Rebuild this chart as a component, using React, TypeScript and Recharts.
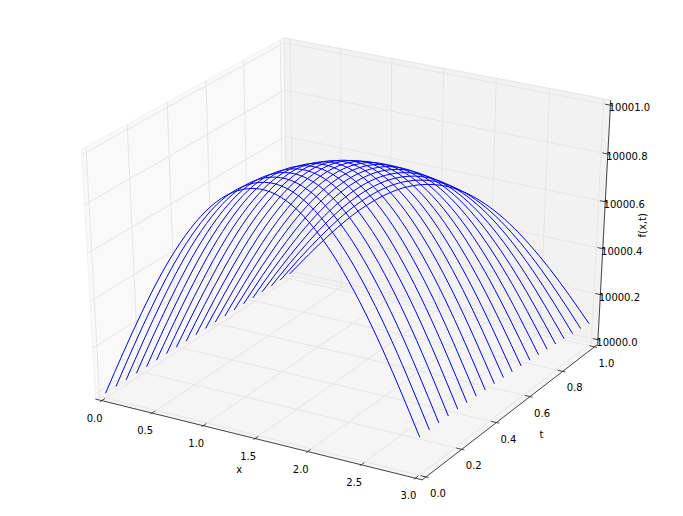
import { ComposedChart, Line, ReferenceArea, XAxis, YAxis } from "recharts";

const xTicks = [0, 0.5, 1, 1.5, 2, 2.5, 3];
const tTicks = [0, 0.2, 0.4, 0.6, 0.8, 1];
const zTicks = [10000, 10000.2, 10000.4, 10000.6, 10000.8, 10001];

// one curve per t: the shared arch profile scaled by that curve's peak height
const tValues = [
  0, 0.053, 0.105, 0.158, 0.211, 0.263, 0.316, 0.368, 0.421, 0.474, 0.526,
  0.579, 0.632, 0.684, 0.737, 0.789, 0.842, 0.895, 0.947, 1,
];
const peakHeights = [
  1, 0.999, 0.995, 0.988, 0.978, 0.966, 0.95, 0.933, 0.913, 0.89, 0.865, 0.837,
  0.807, 0.775, 0.741, 0.705, 0.666, 0.626, 0.584, 0.54,
];
const xSamples = [0, 0.2, 0.4, 0.6, 0.8, 1, 1.2, 1.4, 1.6, 1.8, 2, 2.2, 2.4, 2.6, 2.8, 3];
const archProfile = [
  0, 0.199, 0.389, 0.565, 0.717, 0.841, 0.932, 0.985, 1, 0.974, 0.909, 0.808,
  0.675, 0.516, 0.335, 0.141,
];

const X0 = 0, X1 = 3, T0 = 0, T1 = 1, Z0 = 10000, Z1 = 10001;
const padX = (X1 - X0) / 48, padT = (T1 - T0) / 48, padZ = (Z1 - Z0) / 48;
const xa = X0 - padX, xb = X1 + padX;
const ta = T0 - padT, tb = T1 + padT;
const za = Z0 - padZ, zb = Z1 + padZ;

// same camera as mplot3d: elev 30, azim -60, dist 10
const el = (30 * Math.PI) / 180;
const az = (-60 * Math.PI) / 180;
const dist = 10;
const n = [Math.cos(el) * Math.cos(az), Math.cos(el) * Math.sin(az), Math.sin(el)];
const eye = [0.5 + dist * n[0], 0.5 + dist * n[1], 0.5 + dist * n[2]];
const ulen = Math.hypot(n[1], n[0]);
const u = [-n[1] / ulen, n[0] / ulen, 0];
const v = [n[1] * u[2] - n[2] * u[1], n[2] * u[0] - n[0] * u[2], n[0] * u[1] - n[1] * u[0]];
const dot3 = (a: number[], b: number[]) => a[0] * b[0] + a[1] * b[1] + a[2] * b[2];

const project = (x: number, t: number, z: number) => {
  const p = [
    (x - X0) / (X1 - X0) - eye[0],
    (t - T0) / (T1 - T0) - eye[1],
    (z - Z0) / (Z1 - Z0) - eye[2],
  ];
  const w = -dot3(n, p);
  return { px: dot3(u, p) / w, py: dot3(v, p) / w };
};

const path = (pts: number[][]) => pts.map(([x, t, z]) => project(x, t, z));

const panes = [
  { fill: "#f9f9f9", edge: "#f2f2f2", pts: [[xa, ta, za], [xa, tb, za], [xa, tb, zb], [xa, ta, zb]] },
  { fill: "#f2f2f2", edge: "#e6e6e6", pts: [[xa, tb, za], [xb, tb, za], [xb, tb, zb], [xa, tb, zb]] },
  { fill: "#f5f5f5", edge: "#ececec", pts: [[xa, ta, za], [xb, ta, za], [xb, tb, za], [xa, tb, za]] },
];

const gridLines = [
  ...xTicks.map((x) => [[x, ta, za], [x, tb, za], [x, tb, zb]]),
  ...tTicks.map((t) => [[xb, t, za], [xa, t, za], [xa, t, zb]]),
  ...zTicks.map((z) => [[xa, ta, z], [xa, tb, z], [xb, tb, z]]),
];

const axisLines = [
  [[xa, ta, za], [xb, ta, za]],
  [[xb, ta, za], [xb, tb, za]],
  [[xb, tb, za], [xb, tb, zb]],
];

const dT = (T1 - T0) / 12, dX = (X1 - X0) / 12;
const tickMarks = [
  ...xTicks.map((x) => [[x, ta + 0.2 * dT, za], [x, ta - 0.1 * dT, za]]),
  ...tTicks.map((t) => [[xb - 0.2 * dX, t, za], [xb + 0.1 * dX, t, za]]),
  ...zTicks.map((z) => [[xb - 0.2 * dX, tb, z], [xb + 0.1 * dX, tb, z]]),
];

const labels = [
  ...xTicks.map((x) => ({ ...project(x, ta, za), text: x.toFixed(1), dx: -7, dy: 21, rot: 0 })),
  ...tTicks.map((t) => ({ ...project(xb, t, za), text: t.toFixed(1), dx: 12, dy: 20, rot: 0 })),
  ...zTicks.map((z) => ({ ...project(xb, tb, z), text: z.toFixed(1), dx: 19, dy: 6, rot: 0 })),
  { ...project(1.5, ta, za), text: "x", dx: -16, dy: 34, rot: 0 },
  { ...project(xb, 0.5, za), text: "t", dx: 28, dy: 29, rot: 0 },
  { ...project(xb, tb, 10000.5), text: "f(x,t)", dx: 42, dy: 0, rot: -90 },
];

// the pane's bounding box comes from the axis scales, the corners sit inside it
const paneShape = (corners: { px: number; py: number }[], fill: string, edge: string) => (props: any) => {
  const xs = corners.map((c) => c.px);
  const ys = corners.map((c) => c.py);
  const minX = Math.min(...xs), maxX = Math.max(...xs);
  const minY = Math.min(...ys), maxY = Math.max(...ys);
  const d = corners
    .map((c) => {
      const fx = (c.px - minX) / (maxX - minX);
      const fy = (maxY - c.py) / (maxY - minY);
      return `${props.x + fx * props.width},${props.y + fy * props.height}`;
    })
    .join(" ");
  return <polygon points={d} fill={fill} stroke={edge} strokeWidth={1} />;
};

const labelDot = (props: any) => {
  const { cx, cy, payload, index } = props;
  const x = cx + payload.dx;
  const y = cy + payload.dy;
  return (
    <text
      key={index}
      x={x}
      y={y}
      textAnchor="middle"
      fontFamily="DejaVu Sans"
      fontSize={10}
      fill="#000000"
      transform={payload.rot ? `rotate(${payload.rot} ${x} ${y})` : undefined}
    >
      {payload.text}
    </text>
  );
};

export default function App() {
  return (
    <div style={{ position: "absolute", left: 0, top: 0, background: "#ffffff" }}>
      <ComposedChart width={683} height={516} margin={{ top: 0, right: 0, bottom: 0, left: 0 }}>
        <XAxis dataKey="px" type="number" domain={[-0.09684, 0.0918]} allowDataOverflow hide />
        <YAxis type="number" domain={[-0.09686, 0.09174]} allowDataOverflow hide />
        {panes.map((pane, i) => {
          const corners = path(pane.pts);
          const xs = corners.map((c) => c.px);
          const ys = corners.map((c) => c.py);
          return (
            <ReferenceArea
              key={`pane${i}`}
              x1={Math.min(...xs)}
              x2={Math.max(...xs)}
              y1={Math.min(...ys)}
              y2={Math.max(...ys)}
              ifOverflow="visible"
              shape={paneShape(corners, pane.fill, pane.edge)}
            />
          );
        })}
        {gridLines.map((g, i) => (
          <Line
            key={`grid${i}`}
            data={path(g)}
            dataKey="py"
            type="linear"
            stroke="#e6e6e6"
            strokeWidth={1}
            dot={false}
            activeDot={false}
            isAnimationActive={false}
          />
        ))}
        {axisLines.map((a, i) => (
          <Line
            key={`axis${i}`}
            data={path(a)}
            dataKey="py"
            type="linear"
            stroke="#333333"
            strokeWidth={0.9}
            dot={false}
            activeDot={false}
            isAnimationActive={false}
          />
        ))}
        {tickMarks.map((a, i) => (
          <Line
            key={`tick${i}`}
            data={path(a)}
            dataKey="py"
            type="linear"
            stroke="#222222"
            strokeWidth={0.8}
            dot={false}
            activeDot={false}
            isAnimationActive={false}
          />
        ))}
        {tValues.map((t, c) => (
          <Line
            key={`t${t}`}
            data={xSamples.map((x, i) => project(x, t, Z0 + archProfile[i] * peakHeights[c]))}
            dataKey="py"
            type="natural"
            stroke="#0000ff"
            strokeWidth={1}
            dot={false}
            activeDot={false}
            isAnimationActive={false}
          />
        ))}
        <Line
          data={labels}
          dataKey="py"
          stroke="none"
          dot={labelDot}
          activeDot={false}
          isAnimationActive={false}
        />
      </ComposedChart>
    </div>
  );
}
